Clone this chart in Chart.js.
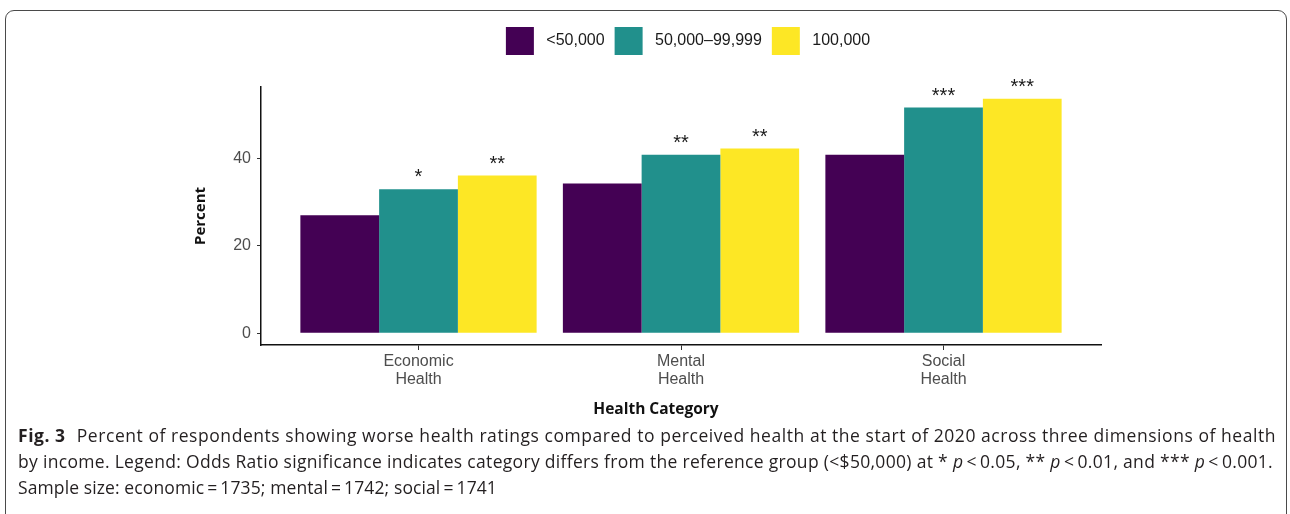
<!DOCTYPE html>
<html>
<head>
<meta charset="utf-8">
<script src="https://cdn.jsdelivr.net/npm/chart.js@4.4.1/dist/chart.umd.min.js"></script>
<style>
  html, body { margin: 0; padding: 0; background: #fff; }
  body { width: 1290px; height: 514px; position: relative; overflow: hidden; }
  .frame {
    position: absolute; left: 5px; top: 10px; width: 1282px; height: 520px;
    border: 1.3px solid #4a4a4a; border-radius: 9px; box-sizing: border-box;
  }
  .chart-wrap { position: absolute; left: 0; top: 0; width: 1290px; height: 425px; }
  .x-title {
    position: absolute; left: 506px; top: 397px; width: 300px; text-align: center;
    font-family: "Open Sans", sans-serif; font-weight: 700; font-size: 15.5px; color: #111;
  }
  .caption {
    position: absolute; left: 18px; top: 422px; width: 1270px;
    font-family: "Open Sans", sans-serif; font-size: 17.5px; line-height: 26px; color: #231f20;
    white-space: nowrap;
  }
  .caption b { font-weight: 700; margin-right: 6px; }
</style>
</head>
<body>
<div class="frame"></div>
<div class="chart-wrap"><canvas id="healthChart"></canvas></div>
<div class="x-title">Health Category</div>
<div class="caption">
  <span class="cap-line" data-w="1258"><b>Fig. 3</b> Percent of respondents showing worse health ratings compared to perceived health at the start of 2020 across three dimensions of health</span><br>
  <span class="cap-line" data-w="1255">by income. Legend: Odds Ratio significance indicates category differs from the reference group (&lt;$50,000) at * <i>p</i>&thinsp;&lt;&thinsp;0.05, ** <i>p</i>&thinsp;&lt;&thinsp;0.01, and *** <i>p</i>&thinsp;&lt;&thinsp;0.001.</span><br>
  <span class="cap-line" data-w="479">Sample size: economic&thinsp;=&thinsp;1735; mental&thinsp;=&thinsp;1742; social&thinsp;=&thinsp;1741</span>
</div>

<script>
// ==================== DATA ====================

const categories = [['Economic', 'Health'], ['Mental', 'Health'], ['Social', 'Health']];
const incomeGroups = ['<50,000', '50,000\u201399,999', '100,000'];

const lowIncome = [27.0, 34.3, 40.9];
const midIncome = [33.0, 40.9, 51.7];
const highIncome = [36.1, 42.3, 53.7];

const lowStars = ['', '', ''];
const midStars = ['*', '**', '***'];
const highStars = ['**', '**', '***'];

const yTicks = [0, 20, 40];
const yMin = -2.7;
const yMax = 56.4;

const barColors = ['#440154', '#21908C', '#FDE725'];

// ==================== HELPERS ====================

function toPoints(values) {
    return values.map((v, i) => ({ x: i + 1, y: v }));
}

const seriesValues = [lowIncome, midIncome, highIncome];
const seriesStars = [lowStars, midStars, highStars];

// stretch each caption line to the width it has in the printed figure
function fitCaption() {
    document.querySelectorAll('.cap-line').forEach(line => {
        const target = parseFloat(line.dataset.w);
        const chars = line.textContent.length;
        const w = line.getBoundingClientRect().width;
        line.style.letterSpacing = ((target - w) / chars) + 'px';
    });
}

// draws the significance asterisks above each bar
const starPlugin = {
    id: 'sigStars',
    afterDatasetsDraw(chart) {
        const ctx = chart.ctx;
        ctx.save();
        ctx.font = '20px "Liberation Sans", Arial, sans-serif';
        ctx.fillStyle = '#1a1a1a';
        ctx.textAlign = 'center';
        ctx.textBaseline = 'alphabetic';
        chart.data.datasets.forEach((ds, i) => {
            const meta = chart.getDatasetMeta(i);
            meta.data.forEach((bar, j) => {
                const label = seriesStars[i][j];
                if (label) ctx.fillText(label, bar.x, bar.y - 6);
            });
        });
        ctx.restore();
    }
};

// legend sits over the plot panel and leaves a gap below it
const legendPlugin = {
    id: 'legendPlace',
    beforeInit(chart) {
        const origFit = chart.legend.fit;
        chart.legend.fit = function () {
            origFit.bind(chart.legend)();
            this.height = 70;
        };
    },
    afterLayout(chart) {
        chart.legend.left = chart.chartArea.left + 7;
        chart.legend.right = chart.chartArea.right + 7;
    }
};

// ==================== CHART ====================

Chart.defaults.font.family = '"Liberation Sans", Arial, sans-serif';

const chart = new Chart(document.getElementById('healthChart'), {
    type: 'bar',
    data: {
        datasets: incomeGroups.map((name, i) => ({
            label: ' ' + name,
            data: toPoints(seriesValues[i]),
            backgroundColor: barColors[i],
            borderWidth: 0
        }))
    },
    options: {
        responsive: true,
        maintainAspectRatio: false,
        animation: false,
        categoryPercentage: 0.9,
        barPercentage: 1.0,
        layout: { padding: { left: 185, right: 189, top: 17, bottom: 0 } },
        plugins: {
            legend: {
                position: 'top',
                labels: {
                    boxWidth: 28,
                    boxHeight: 28,
                    padding: 10,
                    color: '#1a1a1a',
                    font: { size: 16 }
                }
            },
            tooltip: { enabled: false }
        },
        scales: {
            x: {
                type: 'linear',
                offset: false,
                min: 0.4,
                max: 3.6,
                afterBuildTicks: scale => {
                    scale.ticks = categories.map((c, i) => ({ value: i + 1 }));
                },
                afterFit: scale => { scale.height = 80; },
                grid: {
                    offset: false,
                    drawOnChartArea: false,
                    drawTicks: true,
                    tickLength: 5,
                    tickColor: '#333'
                },
                border: { display: true, color: '#111', width: 1.5 },
                ticks: {
                    padding: 3,
                    color: '#4d4d4d',
                    maxRotation: 0,
                    font: { size: 16, lineHeight: 1.1 },
                    callback: value => categories[value - 1] || ''
                }
            },
            y: {
                min: yMin,
                max: yMax,
                afterBuildTicks: scale => {
                    scale.ticks = yTicks.map(v => ({ value: v }));
                },
                afterFit: scale => { scale.width = 76; },
                grid: {
                    drawOnChartArea: false,
                    drawTicks: true,
                    tickLength: 4,
                    tickColor: '#333'
                },
                border: { display: true, color: '#111', width: 1.5 },
                ticks: {
                    padding: 6,
                    color: '#4d4d4d',
                    font: { size: 16 }
                },
                title: {
                    display: true,
                    text: 'Percent',
                    color: '#111',
                    padding: { top: 7, bottom: 0 },
                    font: { family: '"Open Sans", sans-serif', weight: 'bold', size: 15 }
                }
            }
        }
    },
    plugins: [starPlugin, legendPlugin]
});

fitCaption();
</script>
</body>
</html>
